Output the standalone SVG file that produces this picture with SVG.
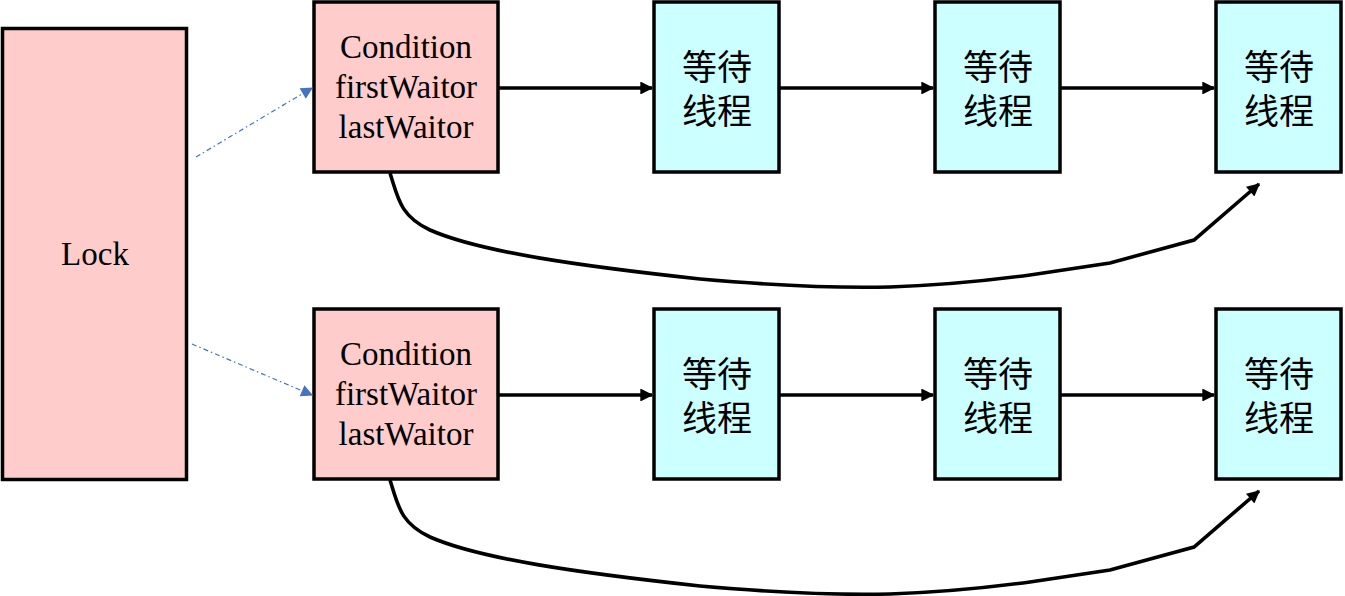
<svg xmlns="http://www.w3.org/2000/svg" width="1345" height="596" viewBox="0 0 1345 596">
<defs>
<style>
.pink{fill:#FFCCCC;stroke:#000;stroke-width:3.5}
.cyan{fill:#CCFFFF;stroke:#000;stroke-width:3.5}
.lat{font-family:"Liberation Serif","Times New Roman",serif;font-size:33px;fill:#000;text-anchor:middle}
.cjk{font-family:"Noto Sans CJK SC","Microsoft YaHei",sans-serif;font-size:35px;fill:#000;text-anchor:middle}
.solid{fill:none;stroke:#000;stroke-width:3.6}
.dash{fill:none;stroke:#4472C4;stroke-width:1.2;stroke-dasharray:5 3 1.5 3}
</style>
<marker id="ab" viewBox="0 0 10 10" refX="9" refY="5" markerWidth="3.8" markerHeight="3.6" orient="auto" markerUnits="strokeWidth">
<path d="M0,0 L10,5 L0,10 z" fill="#000"/>
</marker>
<marker id="ad" viewBox="0 0 10 10" refX="9" refY="5" markerWidth="11" markerHeight="10" orient="auto" markerUnits="strokeWidth">
<path d="M0,0 L10,5 L0,10 z" fill="#4472C4"/>
</marker>
</defs>

<g id="lock">
<rect class="pink" x="2.5" y="28.5" width="184" height="451"/>
<text class="lat" x="95" y="265">Lock</text>
</g>

<g id="cond1">
<rect class="pink" x="314" y="2" width="184" height="170"/>
<text class="lat" x="406" y="58">Condition</text>
<text class="lat" x="406" y="98">firstWaitor</text>
<text class="lat" x="406" y="138">lastWaitor</text>
</g>
<g id="w1a"><rect class="cyan" x="654" y="2" width="125" height="170"/><text class="cjk" x="717" y="80">等待</text><text class="cjk" x="717" y="124">线程</text></g>
<g id="w1b"><rect class="cyan" x="935" y="2" width="125" height="170"/><text class="cjk" x="998" y="80">等待</text><text class="cjk" x="998" y="124">线程</text></g>
<g id="w1c"><rect class="cyan" x="1216" y="2" width="125" height="170"/><text class="cjk" x="1279" y="80">等待</text><text class="cjk" x="1279" y="124">线程</text></g>

<g id="cond2">
<rect class="pink" x="314" y="309" width="184" height="170"/>
<text class="lat" x="406" y="365">Condition</text>
<text class="lat" x="406" y="405">firstWaitor</text>
<text class="lat" x="406" y="445">lastWaitor</text>
</g>
<g id="w2a"><rect class="cyan" x="654" y="309" width="125" height="170"/><text class="cjk" x="717" y="387">等待</text><text class="cjk" x="717" y="431">线程</text></g>
<g id="w2b"><rect class="cyan" x="935" y="309" width="125" height="170"/><text class="cjk" x="998" y="387">等待</text><text class="cjk" x="998" y="431">线程</text></g>
<g id="w2c"><rect class="cyan" x="1216" y="309" width="125" height="170"/><text class="cjk" x="1279" y="387">等待</text><text class="cjk" x="1279" y="431">线程</text></g>

<g id="connectors">
<path class="dash" d="M196,157 L312,88" marker-end="url(#ad)"/>
<path class="dash" d="M192,344 L312,395" marker-end="url(#ad)"/>
<path class="solid" d="M499,88 L652,88" marker-end="url(#ab)"/>
<path class="solid" d="M780,88 L933,88" marker-end="url(#ab)"/>
<path class="solid" d="M1061,88 L1214,88" marker-end="url(#ab)"/>
<path class="solid" d="M499,395 L652,395" marker-end="url(#ab)"/>
<path class="solid" d="M780,395 L933,395" marker-end="url(#ab)"/>
<path class="solid" d="M1061,395 L1214,395" marker-end="url(#ab)"/>
<path class="solid" d="M390,173 C398,198 400,216 430,230 C480,252 580,266 700,279 C780,286 850,288 890,287 C950,285 1000,279 1030,275 L1110,263 L1194,240 L1259,184" marker-end="url(#ab)"/>
<path class="solid" d="M390,480 C398,505 400,523 430,537 C480,559 580,573 700,586 C780,593 850,595 890,594 C950,592 1000,586 1030,582 L1110,570 L1194,547 L1259,491" marker-end="url(#ab)"/>
</g>
</svg>
